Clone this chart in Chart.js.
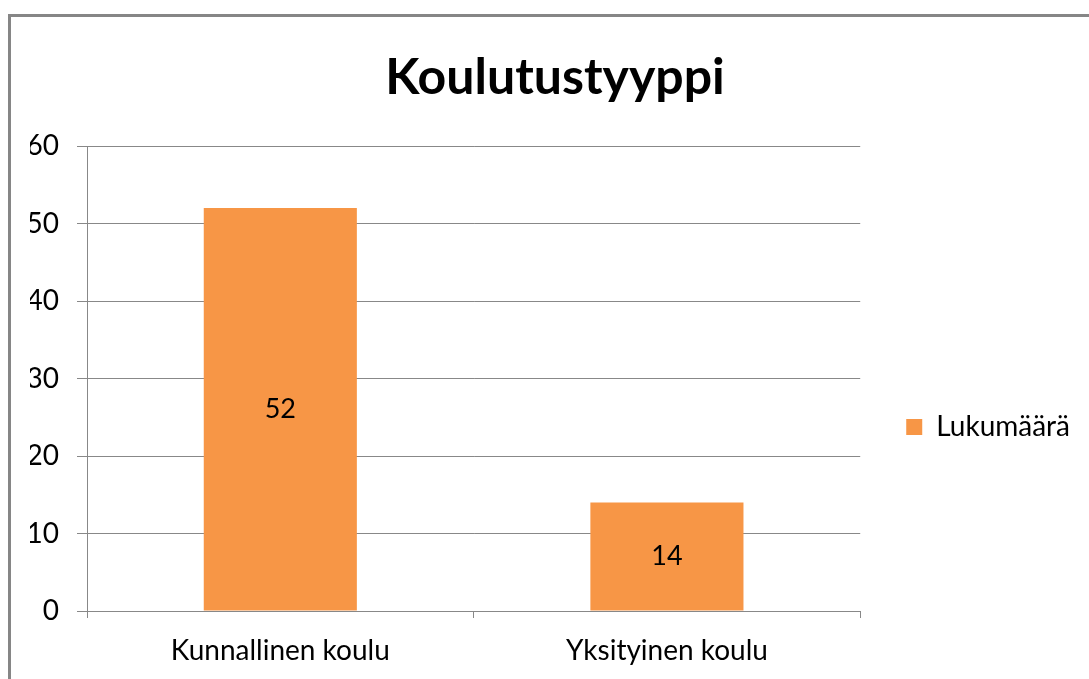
<!DOCTYPE html>
<html>
<head>
<meta charset="utf-8">
<script src="https://cdn.jsdelivr.net/npm/chart.js@4/dist/chart.umd.min.js"></script>
<style>
html,body{margin:0;padding:0;background:#fff;}
#wrap{position:absolute;left:0;top:0;width:1089px;height:679px;}
</style>
</head>
<body>
<div id="wrap"><canvas id="c" width="1089" height="679"></canvas></div>
<script>
const categories = ["Kunnallinen koulu", "Yksityinen koulu"];
const seriesName = "Lukumäärä";
const values = [52, 14];
const yTicks = [0, 10, 20, 30, 40, 50, 60];
const titleText = "Koulutustyyppi";

const FONT = "Lato, Calibri, 'Liberation Sans', sans-serif";
const GRID = "#888888";

const frame = {
  id: 'frame',
  beforeDraw(chart) {
    const ctx = chart.ctx;
    ctx.save();
    ctx.fillStyle = '#fff';
    ctx.fillRect(0, 0, chart.width, chart.height);
    ctx.strokeStyle = '#868686';
    ctx.lineWidth = 3;
    ctx.beginPath();
    ctx.moveTo(9.5, chart.height + 2);
    ctx.lineTo(9.5, 15.5);
    ctx.lineTo(chart.width + 2, 15.5);
    ctx.stroke();
    ctx.restore();
  }
};

const barLabels = {
  id: 'barLabels',
  afterDatasetsDraw(chart) {
    const ctx = chart.ctx;
    ctx.save();
    ctx.font = "27px " + FONT;
    ctx.fillStyle = '#000';
    ctx.textAlign = 'center';
    ctx.textBaseline = 'middle';
    chart.getDatasetMeta(0).data.forEach((bar, i) => {
      const v = chart.data.datasets[0].data[i];
      ctx.fillText(String(v), bar.x, (bar.y + bar.base) / 2);
    });
    ctx.restore();
  }
};

new Chart(document.getElementById('c'), {
  type: 'bar',
  data: {
    labels: categories,
    datasets: [{
      label: seriesName,
      data: values,
      backgroundColor: '#F79646',
      borderWidth: 0,
      barPercentage: 0.396,
      categoryPercentage: 1.0
    }]
  },
  options: {
    responsive: false,
    animation: false,
    devicePixelRatio: 1,
    layout: { padding: { left: 30, top: 15, right: 9, bottom: 0 } },
    plugins: {
      title: {
        display: true,
        text: titleText,
        color: '#000',
        font: { family: FONT, size: 50, weight: 'bold', lineHeight: 1.2 },
        padding: { top: 33, bottom: 38 }
      },
      legend: {
        position: 'right',
        title: { display: true, text: ' ', font: { size: 10, lineHeight: 1 }, padding: { top: 0, bottom: 150 } },
        labels: {
          color: '#000',
          font: { family: FONT, size: 28 },
          boxWidth: 16,
          boxHeight: 16,
          padding: 46
        }
      },
      tooltip: { enabled: false }
    },
    scales: {
      x: {
        grid: { drawOnChartArea: false, drawTicks: true, tickLength: 7, color: GRID, offset: true },
        border: { color: GRID, width: 1 },
        ticks: { color: '#000', font: { family: FONT, size: 28 }, padding: 16, maxRotation: 0 },
        afterFit(s) { s.height = 68; }
      },
      y: {
        min: 0, max: 60,
        grid: { color: GRID, tickLength: 10, drawTicks: true },
        border: { color: GRID, width: 1 },
        afterBuildTicks(s) { s.ticks = yTicks.map(v => ({ value: v })); },
        ticks: { color: '#000', font: { family: FONT, size: 28 }, padding: 18 },
        afterFit(s) { s.width = 57; }
      }
    }
  },
  plugins: [frame, barLabels]
});
</script>
</body>
</html>
